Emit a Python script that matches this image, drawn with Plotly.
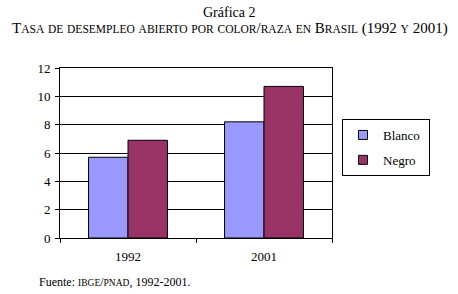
import plotly.graph_objects as go

years = ["1992", "2001"]
blanco = [5.7, 8.2]
negro = [6.9, 10.7]
y_ticks = [0, 2, 4, 6, 8, 10, 12]
series_names = ["Blanco", "Negro"]
series_colors = ["#9999FF", "#993366"]

SERIF = "Liberation Serif, DejaVu Serif, serif"

fig = go.Figure()
for name, vals, col in zip(series_names, [blanco, negro], series_colors):
    fig.add_trace(go.Bar(name=name, x=years, y=vals, showlegend=False,
                         marker=dict(color=col, line=dict(color="black", width=1))))
# legend entries with small square swatches
for name, col in zip(series_names, series_colors):
    fig.add_trace(go.Scatter(name=name + " ", x=[None], y=[None], mode="markers", legendgroup=name,
                             marker=dict(symbol="square", size=9, color=col,
                                         line=dict(color="black", width=1))))

def sc(text, big=13, small=10):
    out = []
    for ch in text:
        if ch.isupper() or not ch.isalpha():
            out.append(f"<span style='font-size:{big}px'>{ch}</span>" if ch != " " else " ")
        else:
            out.append(f"<span style='font-size:{small}px'>{ch.upper()}</span>")
    return "".join(out)

plot_l, plot_r, plot_t, plot_b = 60, 332, 68, 238
W, H = 458, 294
plot_w = plot_r - plot_l
plot_h = plot_b - plot_t
def px(xp):
    return (xp - plot_l) / plot_w
def py(yp):
    return (plot_b - yp) / plot_h

fig.update_layout(
    width=W, height=H,
    margin=dict(l=plot_l, r=W - plot_r, t=plot_t, b=H - plot_b, autoexpand=False),
    paper_bgcolor="white", plot_bgcolor="white",
    font=dict(family=SERIF, size=13, color="black"),
    barmode="group", bargap=0.42, bargroupgap=0,
    showlegend=True,
    legend=dict(x=px(342), y=py(119), xanchor="left", yanchor="top",
                bordercolor="black", borderwidth=1, bgcolor="white",
                font=dict(size=13), itemwidth=30, tracegroupgap=5),
    xaxis=dict(showline=True, linecolor="black", linewidth=1, mirror=True,
               ticks="outside", tickson="boundaries", ticklen=4, tickcolor="black",
               showgrid=False, tickfont=dict(size=13), ticklabelstandoff=6),
    yaxis=dict(range=[0, 12], tickvals=y_ticks, showline=True, linecolor="black", linewidth=1,
               mirror=True, ticks="outside", ticklen=4, tickcolor="black",
               showgrid=True, gridcolor="black", gridwidth=1, tickfont=dict(size=13), zeroline=False,
               ticklabelstandoff=2),
)

fig.add_annotation(text="Gráfica 2", xref="paper", yref="paper", x=px(229), xanchor="center",
                   y=py(12), yanchor="middle", showarrow=False, font=dict(size=14))
fig.add_annotation(text=sc("Tasa de desempleo abierto por color/raza en Brasil (1992 y 2001)", 15, 11.5),
                   xref="paper", yref="paper", x=px(230), xanchor="center",
                   y=py(29), yanchor="middle", showarrow=False, font=dict(size=15))
fig.add_annotation(text="Fuente: " + sc("ibge/pnad,", 12, 9.5) + " 1992-2001.",
                   xref="paper", yref="paper", x=px(37), xanchor="left",
                   y=py(282), yanchor="middle", showarrow=False, font=dict(size=12))

fig.write_html("out.html", config={"displayModeBar": False},
               post_script="document.body.style.margin='0';")
